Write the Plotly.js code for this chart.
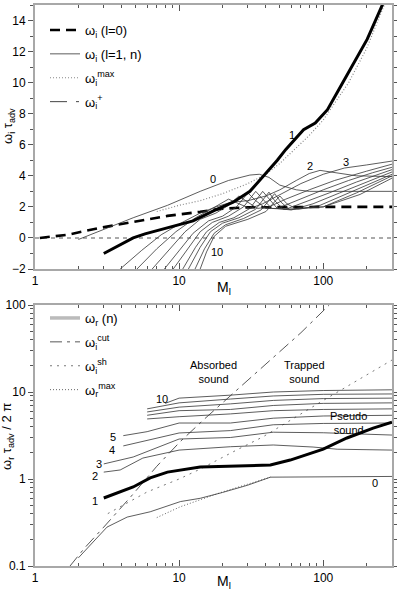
<!DOCTYPE html>
<html>
<head>
<meta charset="utf-8">
<script src="https://cdn.plot.ly/plotly-3.0.1.min.js"></script>
<style>
  body { margin: 0; background: #fff; }
  #chart { width: 397px; height: 593px; }
</style>
</head>
<body>
<div id="chart"></div>
<script>
// ---------- top panel: growth rate omega_i * tau_adv ----------
var l0M = [1.08, 1.67, 2.83, 4.8, 8.3, 14, 19.2, 30, 50, 100, 300];
var l0Y = [0, 0.2, 0.65, 1.03, 1.42, 1.68, 1.87, 1.97, 2.0, 2.0, 2.0];

var zeroM = [1, 300];
var zeroY = [0, 0];

var t0M = [2, 2.83, 4.8, 8.3, 14, 22, 31, 36, 42, 50, 65, 80, 300];
var t0Y = [-0.1, 0.45, 1.3, 2.1, 3.0, 3.7, 4.05, 4.1, 3.9, 3.4, 3.1, 3.0, 3.0];

var t1M = [3, 4.8, 5.8, 8.3, 12.5, 17.3, 23.7, 31, 38, 48, 55, 73, 88, 107, 131, 161, 202, 257, 270];
var t1Y = [-1, 0, 0.26, 0.65, 1.1, 1.74, 2.3, 3.0, 3.9, 5.0, 5.7, 6.97, 7.4, 8.26, 9.7, 11.2, 12.8, 15, 15.6];

var t2M = [3.9, 5.5, 7.5, 10.5, 14, 18, 23, 30, 40, 50, 65, 80, 95, 120, 170, 300];
var t2Y = [-2, -0.8, 0.2, 1.0, 1.6, 2.0, 2.3, 2.4, 2.7, 3.1, 3.7, 4.15, 4.35, 4.2, 4.0, 3.95];
var t3M = [5.1, 7, 9.5, 13, 17, 22, 26, 31, 38, 50, 70, 100, 140, 200, 300];
var t3Y = [-2, -0.7, 0.4, 1.3, 1.9, 2.5, 2.2, 1.9, 2.2, 2.8, 3.5, 4.1, 4.5, 4.7, 4.95];
var t4M = [6.5, 8.5, 11, 14, 18, 22, 26, 30, 35, 42, 55, 80, 120, 200, 300];
var t4Y = [-2, -0.8, 0.4, 1.2, 1.6, 2.1, 2.7, 2.3, 1.9, 2.0, 2.5, 3.1, 3.7, 4.3, 4.75];
var t5M = [7.9, 10, 12.5, 16, 20, 25, 30, 34, 40, 48, 65, 100, 150, 220, 300];
var t5Y = [-2, -0.8, 0.3, 1.1, 1.4, 2.0, 2.9, 2.4, 1.9, 1.9, 2.4, 3.1, 3.7, 4.2, 4.55];
var t6M = [9.1, 11.5, 14, 17, 22, 28, 34, 38, 44, 55, 75, 110, 170, 300];
var t6Y = [-2, -0.7, 0.4, 1.0, 1.4, 2.0, 3.0, 2.5, 1.9, 1.85, 2.3, 2.9, 3.6, 4.4];
var t7M = [10.6, 13, 15.5, 19, 24, 31, 38, 42, 48, 60, 85, 130, 200, 300];
var t7Y = [-2, -0.6, 0.4, 1.0, 1.3, 1.9, 3.0, 2.5, 1.9, 1.8, 2.2, 2.9, 3.6, 4.25];
var t8M = [11.6, 14, 16.5, 20, 26, 34, 42, 46, 53, 68, 95, 150, 220, 300];
var t8Y = [-2, -0.6, 0.4, 0.95, 1.3, 1.85, 2.95, 2.4, 1.85, 1.85, 2.1, 2.9, 3.6, 4.1];
var t9M = [12.9, 15, 17.5, 21, 28, 37, 46, 51, 58, 75, 100, 170, 300];
var t9Y = [-2, -0.7, 0.3, 0.85, 1.25, 1.8, 2.85, 2.3, 1.85, 1.9, 2.0, 2.9, 4.0];
var t10M = [14, 15.5, 17.5, 21, 30, 40, 50, 56, 64, 100, 180, 300];
var t10Y = [-2, -0.9, 0.1, 0.75, 1.2, 1.7, 2.7, 2.2, 1.9, 2.0, 2.8, 3.85];

var maxIM = [7, 10, 14, 20, 30, 40, 50, 60, 80, 100, 150, 200, 265];
var maxIY = [1.7, 2.1, 2.4, 2.85, 3.5, 4.1, 4.8, 5.5, 6.6, 7.6, 10.0, 12.2, 15];

// ---------- bottom panel: frequency omega_r * tau_adv / 2pi ----------
var b0M = [2, 3.16, 4.36, 6.3, 10.2, 14, 20, 30, 43, 300];
var b0V = [0.124, 0.28, 0.365, 0.42, 0.55, 0.6, 0.7, 0.85, 1.05, 1.07];
var b1M = [3, 4.8, 6.3, 8.3, 14, 25, 43, 59, 81, 100, 146, 222, 300];
var b1V = [0.605, 0.81, 1.03, 1.2, 1.37, 1.42, 1.45, 1.65, 1.95, 2.2, 2.96, 3.85, 4.5];
var b2M = [3, 3.9, 5.6, 10, 22.7, 45, 85, 125, 300];
var b2V = [1.2, 1.27, 1.74, 2.15, 2.35, 2.46, 2.33, 2.2, 2.15];
var b3M = [3, 4.8, 10, 22.7, 45, 100, 300];
var b3V = [1.49, 1.79, 2.88, 3.0, 3.45, 3.4, 3.2];
var b4M = [4.1, 6, 10, 22.7, 45, 100, 300];
var b4V = [2.4, 2.8, 3.38, 3.6, 4.2, 4.35, 4.4];
var b5M = [4.1, 6, 10, 22.7, 45, 100, 300];
var b5V = [3.15, 3.5, 4.4, 4.4, 5.0, 5.3, 5.4];
var b6M = [6, 10, 22.7, 45, 100, 300];
var b6V = [4.9, 5.2, 5.6, 6.1, 6.3, 6.4];
var b7M = [6, 10, 22.7, 45, 100, 300];
var b7V = [5.4, 6.1, 6.3, 7.0, 7.4, 7.5];
var b8M = [6, 10, 22.7, 45, 100, 300];
var b8V = [5.9, 6.7, 7.3, 8.0, 8.4, 8.5];
var b9M = [6, 10, 22.7, 45, 100, 300];
var b9V = [6.4, 7.5, 8.3, 9.0, 9.4, 9.5];
var b10M = [8, 10, 22.7, 45, 100, 300];
var b10V = [7.4, 8.5, 9.2, 10.0, 10.4, 10.6];

var cutM = [1.75, 2.2, 3, 4.6, 7, 10.2, 15, 25, 40, 70, 110];
var cutV = [0.1, 0.16, 0.28, 0.62, 1.4, 2.7, 4.9, 10.5, 21, 48, 100];
var shM = [3.2, 6, 10, 14, 25, 38, 100, 300];
var shV = [0.4, 0.71, 1.0, 1.3, 2.15, 3.04, 8, 23.3];
var maxRM = [7, 10.2, 20, 43];
var maxRV = [0.36, 0.48, 0.71, 1.05];

var FONT = 'Liberation Sans, Arial, sans-serif';
var thin = {color: '#333', width: 0.8};

function line(x, y, ln, xa, ya, extra) {
  var t = {x: x, y: y, type: 'scatter', mode: 'lines', line: ln,
           xaxis: xa, yaxis: ya, showlegend: false, hoverinfo: 'skip'};
  for (var k in extra) t[k] = extra[k];
  return t;
}

// legend entry helper: each entry in its own group so tracegroupgap spaces the rows
function entry(name, legend) {
  return {showlegend: true, name: name, legend: legend, legendgroup: name};
}

var data = [
  line(zeroM, zeroY, {color: '#aaa', width: 2, dash: '4px,4px'}, 'x', 'y'),
  line(l0M, l0Y, {color: '#000', width: 2.6, dash: '10px,6px'}, 'x', 'y',
       entry('ω<sub>i</sub> (l=0)', 'legend')),
  line(t0M, t0Y, thin, 'x', 'y', entry('ω<sub>i</sub> (l=1, n)', 'legend')),
  line(maxIM, maxIY, {color: '#888', width: 1.2, dash: '1px,2px'}, 'x', 'y',
       entry('ω<sub>i</sub><sup>max</sup>', 'legend')),
  line([null], [null], {color: '#444', width: 1, dash: '17px,9px,3px,9px'}, 'x', 'y',
       entry('ω<sub>i</sub><sup>+</sup>', 'legend')),
  line(t2M, t2Y, thin, 'x', 'y'),
  line(t3M, t3Y, thin, 'x', 'y'),
  line(t4M, t4Y, thin, 'x', 'y'),
  line(t5M, t5Y, thin, 'x', 'y'),
  line(t6M, t6Y, thin, 'x', 'y'),
  line(t7M, t7Y, thin, 'x', 'y'),
  line(t8M, t8Y, thin, 'x', 'y'),
  line(t9M, t9Y, thin, 'x', 'y'),
  line(t10M, t10Y, thin, 'x', 'y'),
  line(t1M, t1Y, {color: '#000', width: 3}, 'x', 'y'),

  line([null], [null], {color: '#bbb', width: 3.5}, 'x2', 'y2',
       entry('ω<sub>r</sub> (n)', 'legend2')),
  line(cutM, cutV, {color: '#444', width: 0.9, dash: '12px,5px,3px,5px'}, 'x2', 'y2',
       entry('ω<sub>i</sub><sup>cut</sup>', 'legend2')),
  line(shM, shV, {color: '#777', width: 1, dash: '2px,5px'}, 'x2', 'y2',
       entry('ω<sub>i</sub><sup>sh</sup>', 'legend2')),
  line(maxRM, maxRV, {color: '#666', width: 1, dash: '1px,2px'}, 'x2', 'y2',
       entry('ω<sub>r</sub><sup>max</sup>', 'legend2')),
  line(b0M, b0V, thin, 'x2', 'y2'),
  line(b2M, b2V, thin, 'x2', 'y2'),
  line(b3M, b3V, thin, 'x2', 'y2'),
  line(b4M, b4V, thin, 'x2', 'y2'),
  line(b5M, b5V, thin, 'x2', 'y2'),
  line(b6M, b6V, thin, 'x2', 'y2'),
  line(b7M, b7V, thin, 'x2', 'y2'),
  line(b8M, b8V, thin, 'x2', 'y2'),
  line(b9M, b9V, thin, 'x2', 'y2'),
  line(b10M, b10V, thin, 'x2', 'y2'),
  line(b1M, b1V, {color: '#000', width: 3}, 'x2', 'y2')
];

var minorLog = [2, 3, 4, 5, 6, 7, 8, 9, 20, 30, 40, 50, 60, 70, 80, 90, 200, 300];
var minorLogY = [0.2, 0.3, 0.4, 0.5, 0.6, 0.7, 0.8, 0.9, 2, 3, 4, 5, 6, 7, 8, 9, 20, 30, 40, 50, 60, 70, 80, 90];

function xaxis(anchor) {
  return {
    type: 'log', range: [0, Math.log10(300)], domain: [35 / 397, 392 / 397],
    anchor: anchor, dtick: 1, ticks: 'inside', ticklen: 6, tickcolor: '#555',
    mirror: 'allticks', showline: true, linecolor: '#a8a8a8', linewidth: 2,
    showgrid: false, zeroline: false, tickfont: {size: 12, color: '#000'},
    minor: {tickvals: minorLog, ticks: 'inside', ticklen: 3, tickcolor: '#555'}
  };
}

var ann = [];
var labels = [
  // top panel curve numbers [log10 M, y]
  ['x', 'y', 1.236, 3.8, '0'], ['x', 'y', 1.785, 6.65, '1'], ['x', 'y', 1.91, 4.65, '2'],
  ['x', 'y', 2.16, 4.9, '3'], ['x', 'y', 1.264, -0.9, '10'],
  // bottom panel [log10 M, log10 v]
  ['x2', 'y2', 0.417, -0.253, '1'], ['x2', 'y2', 0.417, 0.034, '2'], ['x2', 'y2', 0.444, 0.172, '3'],
  ['x2', 'y2', 0.535, 0.333, '4'], ['x2', 'y2', 0.542, 0.483, '5'], ['x2', 'y2', 0.882, 0.92, '10'],
  ['x2', 'y2', 2.361, -0.046, '0'],
  ['x2', 'y2', 1.236, 1.23, 'Absorbed<br>sound'], ['x2', 'y2', 1.868, 1.23, 'Trapped<br>sound'],
  ['x2', 'y2', 2.174, 0.644, 'Pseudo<br>sound']
];
labels.forEach(function (l) {
  ann.push({xref: l[0], yref: l[1], x: l[2], y: l[3], text: l[4], showarrow: false,
            xanchor: 'center', yanchor: 'middle',
            font: {size: 11, color: '#000', family: FONT}});
});

function paperText(x, y, txt, size, angle) {
  ann.push({xref: 'paper', yref: 'paper', x: x / 397, y: 1 - y / 593, text: txt,
            showarrow: false, xanchor: 'center', yanchor: 'middle', textangle: angle || 0,
            font: {size: size, color: '#000', family: FONT}});
}
paperText(8, 126, 'ω<sub>i</sub> τ<sub>adv</sub>', 13, -90);
paperText(8, 437, 'ω<sub>r</sub> τ<sub>adv</sub> / 2 π', 13, -90);
paperText(224, 288, 'M<sub>l</sub>', 14);
paperText(224, 582, 'M<sub>l</sub>', 14);

var legendBase = {
  xanchor: 'left', yanchor: 'top', bgcolor: 'rgba(0,0,0,0)', borderwidth: 0,
  font: {size: 13, color: '#000', family: FONT}, traceorder: 'grouped', tracegroupgap: 4
};

var layout = {
  width: 397, height: 593,
  margin: {l: 0, r: 0, t: 0, b: 0},
  paper_bgcolor: '#fff', plot_bgcolor: '#fff',
  font: {family: FONT, color: '#000'},
  xaxis: xaxis('y'),
  yaxis: {
    domain: [1 - 269 / 593, 1 - 5 / 593], anchor: 'x', range: [-2, 15],
    dtick: 2, tick0: 0, ticks: 'outside', ticklen: 5, tickcolor: '#555',
    mirror: 'allticks', showline: true, linecolor: '#a8a8a8', linewidth: 2,
    showgrid: false, zeroline: false, tickfont: {size: 12, color: '#000'},
    minor: {dtick: 1, tick0: 0, ticks: 'outside', ticklen: 3, tickcolor: '#555'}
  },
  xaxis2: xaxis('y2'),
  yaxis2: {
    type: 'log', domain: [1 - 566 / 593, 1 - 305 / 593], anchor: 'x2', range: [-1, 2],
    dtick: 1, ticks: 'outside', ticklen: 5, tickcolor: '#555',
    mirror: 'allticks', showline: true, linecolor: '#a8a8a8', linewidth: 2,
    showgrid: false, zeroline: false, tickfont: {size: 12, color: '#000'},
    minor: {tickvals: minorLogY, ticks: 'outside', ticklen: 3, tickcolor: '#555'}
  },
  legend: Object.assign({x: 45 / 397, y: 1 - 15 / 593}, legendBase),
  legend2: Object.assign({x: 45 / 397, y: 1 - 303 / 593}, legendBase),
  annotations: ann
};

Plotly.newPlot('chart', data, layout, {displayModeBar: false, staticPlot: true});
</script>
</body>
</html>
